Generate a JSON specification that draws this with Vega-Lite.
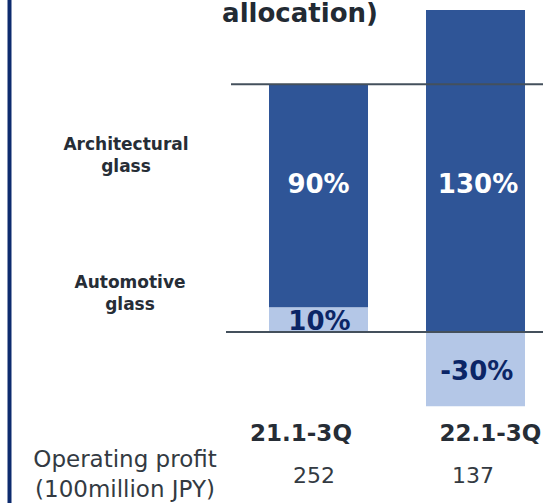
{
  "$schema": "https://vega.github.io/schema/vega-lite/v6.json",
  "width": 543,
  "height": 503,
  "autosize": {"type": "none"},
  "padding": 0,
  "background": "white",
  "config": {"view": {"stroke": null}, "text": {"font": "DejaVu Sans"}, "scale": {"continuousPadding": 0}},
  "resolve": {"scale": {"color": "independent"}},
  "datasets": {
    "bars": [
      {"period": "21.1-3Q", "slot": 1, "segment": "Automotive glass", "share": 10, "ord": 1},
      {"period": "21.1-3Q", "slot": 1, "segment": "Architectural glass", "share": 90, "ord": 2},
      {"period": "22.1-3Q", "slot": 2, "segment": "Automotive glass", "share": -30, "ord": 1},
      {"period": "22.1-3Q", "slot": 2, "segment": "Architectural glass", "share": 130, "ord": 2}
    ],
    "barLabels": [
      {"label": "90%", "lx": 1.0, "ly": 59.5, "segment": "Architectural glass"},
      {"label": "130%", "lx": 2.016, "ly": 59.5, "segment": "Architectural glass"},
      {"label": "10%", "lx": 1.006, "ly": 4.2, "segment": "Automotive glass"},
      {"label": "-30%", "lx": 2.008, "ly": -16, "segment": "Automotive glass"}
    ],
    "periods": [
      {"period": "21.1-3Q", "lx": 0.8885, "ly": -41},
      {"period": "22.1-3Q", "lx": 2.095, "ly": -41}
    ],
    "profit": [
      {"period": "21.1-3Q", "profit": 252, "lx": 0.9713, "ly": -58.2},
      {"period": "22.1-3Q", "profit": 137, "lx": 1.9841, "ly": -58.2}
    ],
    "segLabels": [
      {"text": "Architectural\nglass", "lx": -0.2261, "ly": 75.5},
      {"text": "Automotive\nglass", "lx": -0.2006, "ly": 19.8}
    ],
    "rowLabel": [
      {"text": "Operating profit\n(100million JPY)", "lx": -0.2325, "ly": -51.6}
    ],
    "title": [
      {"text": "allocation)", "lx": 0.8822, "ly": 128.2}
    ],
    "lines": [
      {"name": "top", "x0": 0.4427, "x1": 2.43, "yv": 100},
      {"name": "zero", "x0": 0.4108, "x1": 2.43, "yv": 0}
    ],
    "border": [{"bx": -0.9682}]
  },
  "layer": [
    {
      "data": {"name": "bars"},
      "mark": {"type": "bar", "size": 99},
      "encoding": {
        "x": {"field": "slot", "type": "quantitative", "scale": {"domain": [-1.0287, 2.4299], "nice": false, "zero": false, "padding": 0}, "axis": null},
        "y": {"field": "share", "type": "quantitative", "stack": "zero", "scale": {"domain": [-69, 134], "nice": false, "zero": false, "padding": 0}, "axis": null},
        "color": {"field": "segment", "type": "nominal", "scale": {"domain": ["Architectural glass", "Automotive glass"], "range": ["#2f5597", "#b4c7e7"]}, "legend": null},
        "order": {"field": "ord", "type": "quantitative"}
      }
    },
    {
      "data": {"name": "lines"},
      "mark": {"type": "rule", "color": "#44505c", "strokeWidth": 2},
      "encoding": {
        "x": {"field": "x0", "type": "quantitative", "scale": {"domain": [-1.0287, 2.4299], "nice": false, "zero": false, "padding": 0}, "axis": null},
        "x2": {"field": "x1"},
        "y": {"field": "yv", "type": "quantitative", "scale": {"domain": [-69, 134], "nice": false, "zero": false, "padding": 0}, "axis": null}
      }
    },
    {
      "data": {"name": "border"},
      "mark": {"type": "rule", "color": "#0d2b6e", "strokeWidth": 4},
      "encoding": {
        "x": {"field": "bx", "type": "quantitative", "scale": {"domain": [-1.0287, 2.4299], "nice": false, "zero": false, "padding": 0}, "axis": null}
      }
    },
    {
      "data": {"name": "barLabels"},
      "mark": {"type": "text", "fontSize": 26, "fontWeight": "bold", "baseline": "middle", "align": "center"},
      "encoding": {
        "x": {"field": "lx", "type": "quantitative", "scale": {"domain": [-1.0287, 2.4299], "nice": false, "zero": false, "padding": 0}, "axis": null},
        "y": {"field": "ly", "type": "quantitative", "scale": {"domain": [-69, 134], "nice": false, "zero": false, "padding": 0}, "axis": null},
        "text": {"field": "label"},
        "color": {"field": "segment", "type": "nominal", "scale": {"domain": ["Architectural glass", "Automotive glass"], "range": ["#ffffff", "#0b2566"]}, "legend": null}
      }
    },
    {
      "data": {"name": "periods"},
      "mark": {"type": "text", "fontSize": 23, "fontWeight": "bold", "baseline": "middle", "align": "center", "color": "#262d36"},
      "encoding": {
        "x": {"field": "lx", "type": "quantitative", "scale": {"domain": [-1.0287, 2.4299], "nice": false, "zero": false, "padding": 0}, "axis": null},
        "y": {"field": "ly", "type": "quantitative", "scale": {"domain": [-69, 134], "nice": false, "zero": false, "padding": 0}, "axis": null},
        "text": {"field": "period"}
      }
    },
    {
      "data": {"name": "profit"},
      "mark": {"type": "text", "fontSize": 22, "baseline": "middle", "align": "center", "color": "#333a42"},
      "encoding": {
        "x": {"field": "lx", "type": "quantitative", "scale": {"domain": [-1.0287, 2.4299], "nice": false, "zero": false, "padding": 0}, "axis": null},
        "y": {"field": "ly", "type": "quantitative", "scale": {"domain": [-69, 134], "nice": false, "zero": false, "padding": 0}, "axis": null},
        "text": {"field": "profit", "type": "quantitative"}
      }
    },
    {
      "data": {"name": "segLabels"},
      "mark": {"type": "text", "fontSize": 17, "fontWeight": "bold", "baseline": "middle", "align": "center", "color": "#262d36", "lineBreak": "\n", "lineHeight": 22},
      "encoding": {
        "x": {"field": "lx", "type": "quantitative", "scale": {"domain": [-1.0287, 2.4299], "nice": false, "zero": false, "padding": 0}, "axis": null},
        "y": {"field": "ly", "type": "quantitative", "scale": {"domain": [-69, 134], "nice": false, "zero": false, "padding": 0}, "axis": null},
        "text": {"field": "text"}
      }
    },
    {
      "data": {"name": "rowLabel"},
      "mark": {"type": "text", "fontSize": 23, "baseline": "middle", "align": "center", "color": "#333a42", "lineBreak": "\n", "lineHeight": 30},
      "encoding": {
        "x": {"field": "lx", "type": "quantitative", "scale": {"domain": [-1.0287, 2.4299], "nice": false, "zero": false, "padding": 0}, "axis": null},
        "y": {"field": "ly", "type": "quantitative", "scale": {"domain": [-69, 134], "nice": false, "zero": false, "padding": 0}, "axis": null},
        "text": {"field": "text"}
      }
    },
    {
      "data": {"name": "title"},
      "mark": {"type": "text", "fontSize": 26, "fontWeight": "bold", "baseline": "middle", "align": "center", "color": "#222a33"},
      "encoding": {
        "x": {"field": "lx", "type": "quantitative", "scale": {"domain": [-1.0287, 2.4299], "nice": false, "zero": false, "padding": 0}, "axis": null},
        "y": {"field": "ly", "type": "quantitative", "scale": {"domain": [-69, 134], "nice": false, "zero": false, "padding": 0}, "axis": null},
        "text": {"field": "text"}
      }
    }
  ]
}
